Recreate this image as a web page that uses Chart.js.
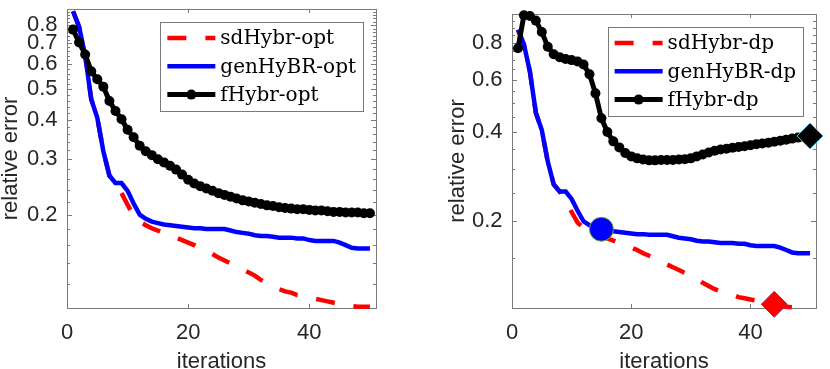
<!DOCTYPE html>
<html>
<head>
<meta charset="utf-8">
<script src="https://cdn.jsdelivr.net/npm/chart.js@4.4.1/dist/chart.umd.min.js"></script>
<style>
  body { margin: 0; background: #fff; }
  canvas { position: absolute; top: 0; }
</style>
</head>
<body>
<canvas id="optChart" width="415" height="369" style="left:0"></canvas>
<canvas id="dpChart" width="415" height="369" style="left:415px"></canvas>
<script>
// Data
const iterations = [1, 2, 3, 4, 5, 6, 7, 8, 9, 10, 11, 12, 13, 14, 15, 16, 17, 18, 19, 20,
    21, 22, 23, 24, 25, 26, 27, 28, 29, 30, 31, 32, 33, 34, 35, 36, 37, 38, 39, 40,
    41, 42, 43, 44, 45, 46, 47, 48, 49, 50];

const sdHybr = [0.885, 0.79, 0.64, 0.465, 0.406, 0.318, 0.266, 0.252, 0.234, 0.215,
    0.198, 0.190, 0.185, 0.181, 0.178, 0.175, 0.172, 0.169, 0.166, 0.163,
    0.160, 0.156, 0.153, 0.150, 0.146, 0.143, 0.140, 0.137, 0.134, 0.131,
    0.128, 0.124, 0.121, 0.118, 0.116, 0.114, 0.113, 0.111, 0.110, 0.109,
    0.108, 0.107, 0.106, 0.105, 0.104, 0.103, 0.1025, 0.102, 0.102, 0.102];

const genHyBR = [0.885, 0.79, 0.64, 0.465, 0.406, 0.318, 0.266, 0.252, 0.252, 0.238,
    0.217, 0.200, 0.194, 0.190, 0.188, 0.186, 0.185, 0.184, 0.183, 0.182,
    0.181, 0.181, 0.180, 0.180, 0.180, 0.180, 0.178, 0.176, 0.175, 0.174,
    0.172, 0.171, 0.171, 0.170, 0.169, 0.169, 0.169, 0.168, 0.168, 0.166,
    0.165, 0.165, 0.165, 0.165, 0.163, 0.160, 0.157, 0.156, 0.156, 0.156];

const fHybrOpt = [0.774, 0.705, 0.645, 0.571, 0.538, 0.510, 0.459, 0.427, 0.402, 0.372,
    0.352, 0.331, 0.318, 0.309, 0.300, 0.293, 0.286, 0.278, 0.268, 0.258,
    0.251, 0.246, 0.242, 0.238, 0.234, 0.231, 0.228, 0.225, 0.222, 0.220,
    0.218, 0.216, 0.214, 0.213, 0.211, 0.210, 0.209, 0.208, 0.208, 0.207,
    0.206, 0.206, 0.205, 0.204, 0.204, 0.203, 0.203, 0.203, 0.202, 0.202];

const fHybrDp = [0.766, 0.99, 0.985, 0.95, 0.87, 0.776, 0.732, 0.715, 0.705, 0.699,
    0.692, 0.676, 0.626, 0.540, 0.445, 0.400, 0.372, 0.355, 0.340, 0.331,
    0.326, 0.323, 0.321, 0.321, 0.322, 0.322, 0.322, 0.323, 0.324, 0.326,
    0.331, 0.336, 0.341, 0.346, 0.349, 0.351, 0.354, 0.356, 0.358, 0.361,
    0.364, 0.366, 0.368, 0.371, 0.374, 0.377, 0.380, 0.383, 0.386, 0.388];

// iteration where the discrepancy principle stops each method
const dpStopSd = 44;
const dpStopGen = 15;
const dpStopF = 50;

const xTicks = [0, 20, 40];
const optYLabels = [0.2, 0.3, 0.4, 0.5, 0.6, 0.7, 0.8];
const dpYLabels = [0.2, 0.4, 0.6, 0.8];

Chart.defaults.font.family = '"Liberation Sans", Arial, sans-serif';
Chart.defaults.color = '#262626';

function minorTicks(from, to, step) {
    const out = [];
    for (let v = from; v <= to + 1e-9; v += step) out.push(Math.round(v * 1000) / 1000);
    return out;
}

function pts(values) {
    return iterations.map((it, k) => ({ x: it, y: values[k] }));
}

// MATLAB style box with inward ticks
const matlabFrame = {
    id: 'matlabFrame',
    beforeDatasetsDraw(chart, args, opts) {
        const { ctx, chartArea: a } = chart;
        const xs = chart.scales.x, ys = chart.scales.y;
        ctx.save();
        ctx.strokeStyle = '#7a7a7a';
        ctx.lineWidth = 1;
        ctx.beginPath();
        ys.ticks.forEach(t => {
            const py = Math.round(ys.getPixelForValue(t.value)) + 0.5;
            const len = opts.major.some(m => Math.abs(m - t.value) < 1e-6) ? 5 : 3;
            ctx.moveTo(a.left, py); ctx.lineTo(a.left + len, py);
            ctx.moveTo(a.right, py); ctx.lineTo(a.right - len, py);
        });
        xs.ticks.forEach(t => {
            const px = Math.round(xs.getPixelForValue(t.value)) + 0.5;
            ctx.moveTo(px, a.bottom); ctx.lineTo(px, a.bottom - 4);
            ctx.moveTo(px, a.top); ctx.lineTo(px, a.top + 4);
        });
        ctx.stroke();
        ctx.strokeRect(Math.round(a.left) + 0.5, Math.round(a.top) + 0.5,
            Math.round(a.right - a.left), Math.round(a.bottom - a.top));
        ctx.restore();
    }
};

// legend box in the top right corner of the axes
const boxLegend = {
    id: 'boxLegend',
    afterDraw(chart, args, opts) {
        const { ctx, chartArea: a } = chart;
        const sets = opts.items.map(i => chart.data.datasets[i]);
        ctx.save();
        ctx.font = '20px "DejaVu Serif"';
        const textW = Math.max(...sets.map(d => ctx.measureText(d.label).width));
        const pad = 7, sample = 48, gap = 5;
        const w = pad + sample + gap + textW + pad;
        const h = 89;
        const right = a.right - 13, top = a.top + 13, left = right - w;
        ctx.fillStyle = '#fff';
        ctx.fillRect(left, top, w, h);
        ctx.strokeStyle = '#7a7a7a';
        ctx.lineWidth = 1;
        ctx.strokeRect(Math.round(left) + 0.5, Math.round(top) + 0.5, Math.round(w), h);
        sets.forEach((d, k) => {
            const y = top + 16 + k * 28.3;
            const x0 = left + pad;
            ctx.strokeStyle = d.borderColor;
            ctx.lineWidth = d.borderWidth;
            ctx.setLineDash(d.borderDash || []);
            ctx.beginPath();
            ctx.moveTo(x0, y); ctx.lineTo(x0 + sample, y);
            ctx.stroke();
            ctx.setLineDash([]);
            if (d.pointRadius > 0) {
                ctx.fillStyle = d.pointBackgroundColor;
                ctx.beginPath();
                ctx.arc(x0 + sample / 2, y, d.pointRadius, 0, Math.PI * 2);
                ctx.fill();
            }
            ctx.fillStyle = '#000';
            ctx.textBaseline = 'middle';
            ctx.fillText(d.label, x0 + sample + gap, y + 1);
        });
        ctx.restore();
    }
};

function lineSets(suffix, fValues) {
    return [
        {
            label: 'sdHybr-' + suffix, data: pts(sdHybr), borderColor: '#ff0000',
            borderWidth: 4.5, borderDash: [19, 19], pointRadius: 0, order: 3, clip: false
        },
        {
            label: 'genHyBR-' + suffix, data: pts(genHyBR), borderColor: '#0000ff',
            borderWidth: 4.5, pointRadius: 0, order: 2, clip: false
        },
        {
            label: 'fHybr-' + suffix, data: pts(fValues), borderColor: '#000000',
            borderWidth: 5, pointRadius: 5, pointBackgroundColor: '#000000',
            pointBorderWidth: 0, order: 1, clip: false
        }
    ];
}

function makeChart(id, datasets, cfg) {
    const labelSet = cfg.labels;
    return new Chart(document.getElementById(id), {
        type: 'line',
        data: { datasets: datasets },
        options: {
            responsive: false,
            animation: false,
            devicePixelRatio: 1,
            layout: { padding: cfg.padding },
            plugins: {
                legend: { display: false },
                tooltip: { enabled: false },
                matlabFrame: { major: labelSet },
                boxLegend: { items: [0, 1, 2] }
            },
            elements: { line: { tension: 0 } },
            scales: {
                x: {
                    type: 'linear', min: 0, max: 51,
                    afterBuildTicks: s => { s.ticks = xTicks.map(v => ({ value: v })); },
                    afterFit: s => { s.height = 61; s.paddingLeft = 0; s.paddingRight = 0; },
                    grid: { display: false, drawTicks: false },
                    border: { display: false },
                    ticks: { font: { size: 22 }, padding: 12, maxRotation: 0, autoSkip: false },
                    title: { display: true, text: 'iterations', font: { size: 22, lineHeight: 0.6 }, padding: 0 }
                },
                y: {
                    type: 'logarithmic', min: cfg.ymin, max: cfg.ymax,
                    afterBuildTicks: s => { s.ticks = cfg.yTicks.map(v => ({ value: v })); },
                    afterFit: s => { s.width = cfg.yWidth; s.paddingTop = 0; s.paddingBottom = 0; },
                    grid: { display: false, drawTicks: false },
                    border: { display: false },
                    ticks: {
                        font: { size: 22 }, padding: 9.5, autoSkip: false,
                        callback: v => labelSet.some(m => Math.abs(m - v) < 1e-6) ? v.toFixed(1) : ''
                    },
                    title: { display: true, text: 'relative error', font: { size: 22, lineHeight: 1 }, padding: cfg.titlePad }
                }
            }
        },
        plugins: [matlabFrame, boxLegend]
    });
}

// left panel: optimal regularization parameter
makeChart('optChart', lineSets('opt', fHybrOpt), {
    labels: optYLabels,
    yTicks: minorTicks(0.12, 0.88, 0.02),
    ymin: 0.101, ymax: 0.9,
    yWidth: 67, titlePad: 0,
    padding: { left: 0, right: 39, top: 9, bottom: 0 }
});

// right panel: discrepancy principle, with stopping markers
const dpSets = lineSets('dp', fHybrDp);
dpSets.push(
    {
        label: 'stop genHyBR', data: [{ x: dpStopGen, y: genHyBR[dpStopGen - 1] }],
        showLine: false, pointStyle: 'circle', pointRadius: 12,
        pointBackgroundColor: '#0000ff', pointBorderColor: '#77ac30', pointBorderWidth: 1,
        order: 0, clip: false
    },
    {
        label: 'stop sdHybr', data: [{ x: dpStopSd, y: sdHybr[dpStopSd - 1] }],
        showLine: false, pointStyle: 'rectRot', pointRadius: 13,
        pointBackgroundColor: '#ff0000', pointBorderColor: '#7e2f8e', pointBorderWidth: 1,
        order: 0, clip: false
    },
    {
        label: 'stop fHybr', data: [{ x: dpStopF, y: fHybrDp[dpStopF - 1] }],
        showLine: false, pointStyle: 'rectRot', pointRadius: 13,
        pointBackgroundColor: '#000000', pointBorderColor: '#4dbeee', pointBorderWidth: 1,
        order: 0, clip: false
    }
);
makeChart('dpChart', dpSets, {
    labels: dpYLabels,
    yTicks: minorTicks(0.15, 1.0, 0.05),
    ymin: 0.102, ymax: 1.0,
    yWidth: 97, titlePad: 32,
    padding: { left: 0, right: 8, top: 8, bottom: 0 }
});
</script>
</body>
</html>
